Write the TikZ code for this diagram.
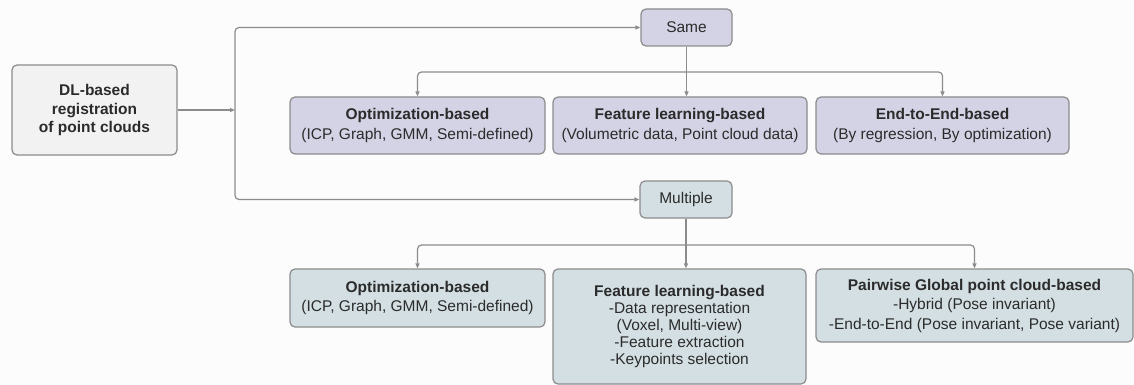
\documentclass[tikz,border=0pt]{standalone}
\usepackage{fontspec}
\setmainfont{Liberation Sans}
\usetikzlibrary{arrows.meta}

\definecolor{bgc}{HTML}{FCFCFC}
\definecolor{rootfill}{HTML}{F1F2F1}
\definecolor{samefill}{HTML}{D4D3E6}
\definecolor{multfill}{HTML}{D3DFE3}
\definecolor{edgec}{HTML}{8C8C8C}
\definecolor{inkc}{HTML}{2B2B2B}

\tikzset{
  box/.style={draw=edgec, line width=1.2pt, rounded corners=5pt, inner sep=0pt,
    align=center, text=inkc, font=\fontsize{15.5}{19.5}\selectfont},
  rootbox/.style={box, fill=rootfill, font=\fontsize{15.5}{18.5}\selectfont\bfseries},
  samebox/.style={box, fill=samefill},
  multbox/.style={box, fill=multfill},
  conn/.style={draw=edgec, line width=1.2pt, rounded corners=4pt,
    arrows={-Triangle[length=5pt,width=4pt]}},
  connboth/.style={conn, arrows={Triangle[length=5pt,width=4pt]-Triangle[length=5pt,width=4pt]}}
}

\begin{document}
\begin{tikzpicture}[x=1pt,y=-1pt]
  \fill[bgc] (0,0) rectangle (1134,385);
  \useasboundingbox (0,0) rectangle (1134,385);

  % root
  \node[rootbox, minimum width=165pt, minimum height=90pt] (root) at (94.5,110)
    {DL-based\\registration\\of point clouds};

  % category nodes
  \node[samebox, minimum width=91pt, minimum height=37pt] (same) at (686.5,27.5) {Same};
  \node[multbox, minimum width=92pt, minimum height=37pt] (mult) at (686,199.5) {Multiple};

  % same branch
  \node[samebox, minimum width=255pt, minimum height=57pt] (opta) at (417.5,125.5)
    {\textbf{Optimization-based}\\(ICP, Graph, GMM, Semi-defined)};
  \node[samebox, minimum width=254pt, minimum height=57pt] (feata) at (680,125.5)
    {\textbf{Feature learning-based}\\(Volumetric data, Point cloud data)};
  \node[samebox, minimum width=253pt, minimum height=57pt] (e2ea) at (942.5,125.5)
    {\textbf{End-to-End-based}\\(By regression, By optimization)};

  % multiple branch
  \node[multbox, minimum width=255pt, minimum height=58pt] (optb) at (417.5,298)
    {\textbf{Optimization-based}\\(ICP, Graph, GMM, Semi-defined)};
  \node[multbox, minimum width=253pt, minimum height=115pt,
        font=\fontsize{15.5}{17}\selectfont] (featb) at (679.5,326.5)
    {\textbf{Feature learning-based}\\-Data representation\\(Voxel, Multi-view)\\-Feature extraction\\-Keypoints selection};
  \node[multbox, minimum width=317pt, minimum height=73pt] (pair) at (974.5,305.5)
    {\textbf{Pairwise Global point cloud-based}\\-Hybrid (Pose invariant)\\-End-to-End (Pose invariant, Pose variant)};

  % trunk from the root
  \coordinate (trunk) at (235,110);
  \coordinate (ba) at (686,72);
  \coordinate (bb) at (686,245);

  \draw[conn] (root.east) -- (trunk);
  \draw[conn] (trunk) |- (same.west);
  \draw[conn] (trunk) |- (mult.west);

  % same fan-out
  \draw[conn] (same.south) -- (same.south |- feata.north);
  \draw[connboth] (opta.north) |- (ba) -| (e2ea.north);

  % multiple fan-out
  \draw[conn] (mult.south) -- (mult.south |- featb.north);
  \draw[connboth] (optb.north) |- (bb) -| (pair.north);
\end{tikzpicture}
\end{document}
